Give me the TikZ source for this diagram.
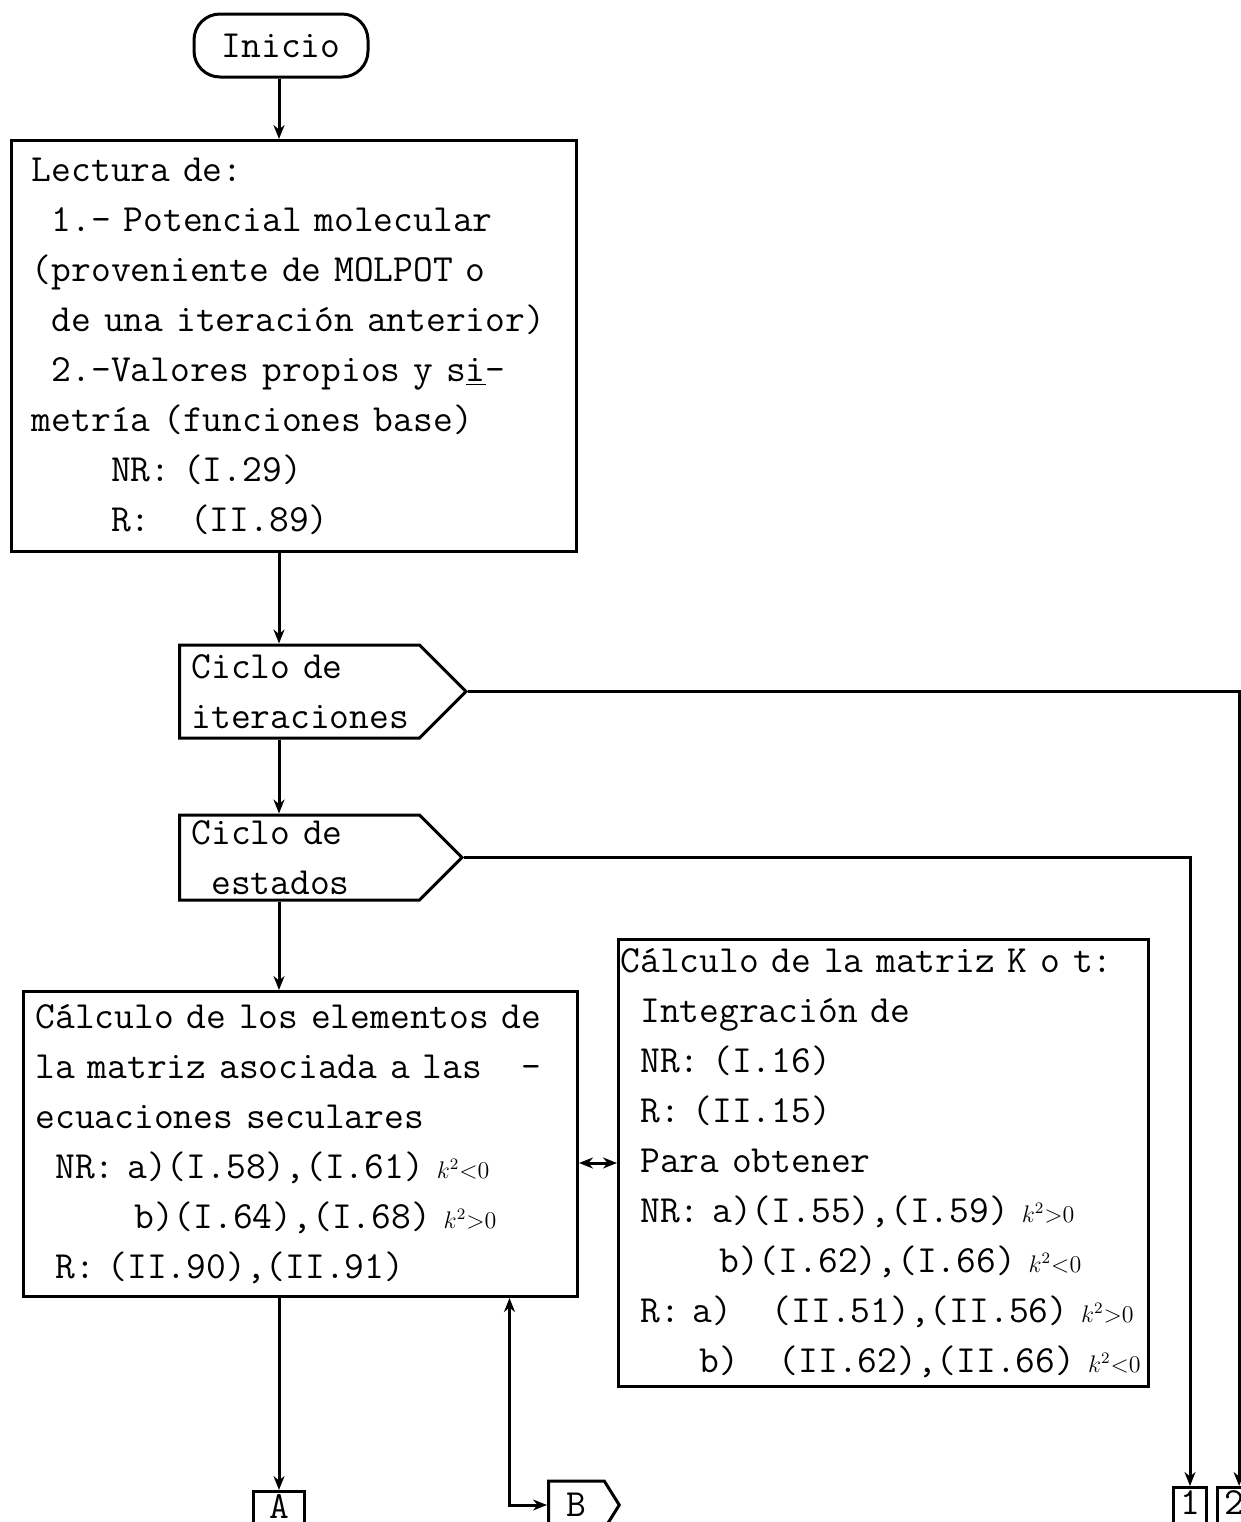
\documentclass[tikz,border=0pt]{standalone}
\usepackage{fontspec}
\usetikzlibrary{arrows.meta,shapes.symbols,positioning}

\newlength{\paso}
\newcommand{\tipo}{\ttfamily\fontsize{19.2}{25}\selectfont
  \setlength{\paso}{\fontcharwd\font48}\spaceskip=\paso\relax}
\newcommand{\ind}[1]{\hspace*{#1\paso}}
\newcommand{\kcond}[1]{{\fontsize{12}{25}\selectfont$k^{2}{#1}0$}}

\tikzset{texto/.style = {font=\tipo},
         caja/.style  = {texto, draw, rectangle, align=left, anchor=north west,
                         text width=#1},
         inicio/.style = {texto, draw, rounded corners=13pt,
                          minimum width=87pt, minimum height=31.5pt},
         senal/.style = {texto, draw, signal, signal to=east, anchor=west},
         ciclo/.style = {senal, signal pointer angle=90, align=left,
                         text width=108pt, inner xsep=6pt, inner ysep=0pt,
                         minimum height=#1},
         conector/.style = {texto, draw, rectangle, anchor=north,
                            inner ysep=1.5pt, text depth=7pt, minimum width=#1},
         conector/.default=16pt,
         flecha/.style = {-{Stealth[length=7pt,width=5.5pt]}},
         dobleflecha/.style = {{Stealth[length=7pt,width=5.5pt]}-{Stealth[length=7pt,width=5.5pt]}}
        }

\begin{document}
\begin{tikzpicture}[x=0.5pt, y=-0.5pt, line width=1.5pt]
  \path[use as bounding box, fill=white] (0,0) rectangle (1241,1522);
  \clip (0,0) rectangle (1241,1522);

  \node[inicio] (inicio) at (281,45.5) {Inicio};

  \node[caja=262pt, inner xsep=10.25pt, minimum height=205.5pt] (lect) at (10,139)
    {Lectura de:\\
     \ind{1}1.- Potencial molecular\\
     (proveniente de MOLPOT o\\
     \ind{1}de una iteración anterior)\\
     \ind{1}2.-Valores propios y s\underline{i}-\\
     metría (funciones base)\\
     \ind{4}NR: (I.29)\\
     \ind{4}R:\ind{2}(II.89)};

  \node[ciclo=46.5pt] (iter) at (178,691.5) {Ciclo de\\iteraciones};
  \node[ciclo=42.5pt] (estados) at (178,857.5) {Ciclo de\\\ind{1}estados};

  \node[caja=265pt, inner xsep=6pt, minimum height=152.5pt] (elem) at (22,990)
    {Cálculo de los elementos de\\
     la matriz asociada a las\ind{2}-\\
     ecuaciones seculares\\
     \ind{1}NR: a)(I.58),(I.61)~\kcond{<}\\
     \ind{5}b)(I.64),(I.68)~\kcond{>}\\
     \ind{1}R: (II.90),(II.91)};

  \node[caja=263pt, inner xsep=1pt, minimum height=223.5pt] (kmat) at (617,938)
    {Cálculo de la matriz K o t:\\
     \ind{1}Integración de\\
     \ind{1}NR: (I.16)\\
     \ind{1}R: (II.15)\\
     \ind{1}Para obtener\\
     \ind{1}NR: a)(I.55),(I.59)~\kcond{>}\\
     \ind{5}b)(I.62),(I.66)~\kcond{<}\\
     \ind{1}R: a)\ind{2}(II.51),(II.56)~\kcond{>}\\
     \ind{4}b)\ind{2}(II.62),(II.66)~\kcond{<}};

  % renvios al pie de la pagina
  \node[conector=25.5pt] (a) at (279,1490) {A};
  \node[senal, signal pointer angle=116, inner xsep=9pt, minimum height=24pt] (b) at (547,1505) {B};
  \node[conector] (uno) at (1190,1486) {1};
  \node[conector, right=4pt of uno] (dos) {2};

  \coordinate (eje) at (279,0);
  \draw[flecha] (inicio.south -| eje) -- (lect.north -| eje);
  \draw[flecha] (lect.south -| eje) -- (iter.north -| eje);
  \draw[flecha] (iter.south -| eje) -- (estados.north -| eje);
  \draw[flecha] (estados.south -| eje) -- (elem.north -| eje);
  \draw[flecha] (elem.south -| eje) -- (a.north);
  \draw[flecha] (iter.east) -| ([xshift=2.5pt]dos.north);
  \draw[flecha] (estados.east) -| (uno.north);
  \draw[dobleflecha] (elem.east |- kmat.west) -- (kmat.west);
  \draw[dobleflecha] (b.west) -| ([xshift=104.5pt]elem.south);
\end{tikzpicture}
\end{document}
